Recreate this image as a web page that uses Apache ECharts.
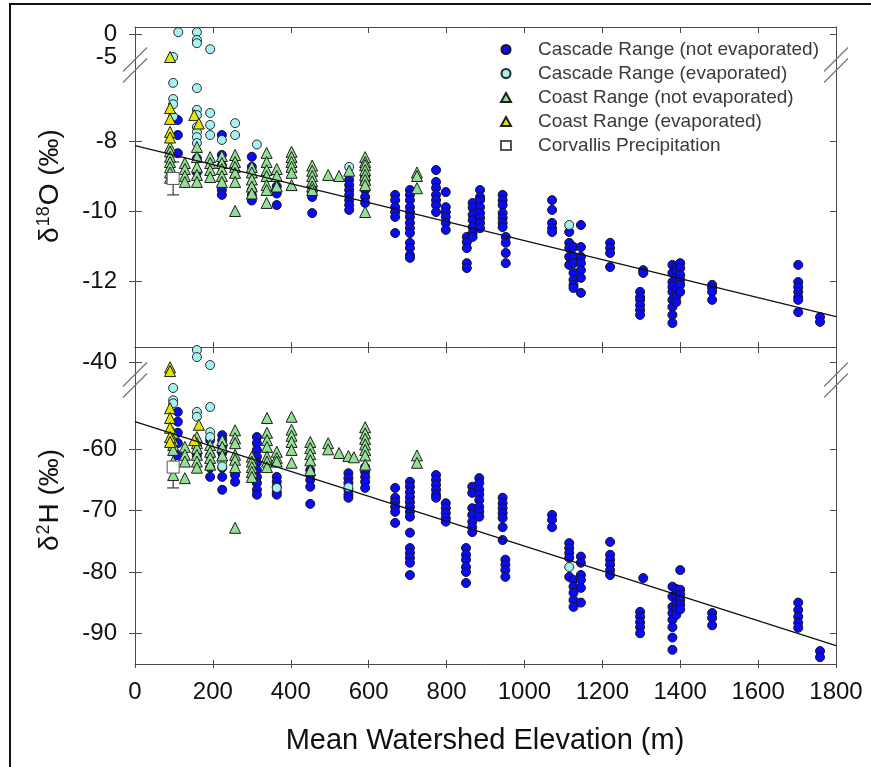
<!DOCTYPE html>
<html><head><meta charset="utf-8">
<script src="https://cdn.jsdelivr.net/npm/echarts@6/dist/echarts.min.js"></script>
<style>html,body{margin:0;padding:0;background:#fff}#c{width:871px;height:767px}</style>
</head><body><div id="c"></div>
<script>
// ---------------- DATA ----------------
// Column format: [mean watershed elevation (m), value1, value2, ...]
const xTickValues = [0, 200, 400, 600, 800, 1000, 1200, 1400, 1600, 1800];
const o18UpperLabelsA = [-5];
const o18UpperLabelsB = [0];
const o18UpperTicks = [0];
const o18LowerTicks = [-8, -10, -12];
const h2UpperTicks = [-40];
const h2LowerTicks = [-60, -70, -80, -90];

const seriesNames = ['Cascade Range (not evaporated)', 'Cascade Range (evaporated)',
  'Coast Range (not evaporated)', 'Coast Range (evaporated)', 'Corvallis Precipitation'];

// δ18O (‰)
const cascadeNotEvapO18 = [
  [110, -7.4, -7.83, -8.35], [159, -8.5, -8.9], [223, -7.83, -8.4, -8.7, -9.4, -9.54],
  [300, -8.45, -8.74, -9.4, -9.55, -9.7], [364, -9.3, -9.5, -9.83], [455, -9.35, -9.5, -9.6, -10.06],
  [550, -9.11, -9.26, -9.4, -9.54, -9.69, -9.83, -9.97], [591, -9.03, -9.2, -9.4, -9.6, -9.77],
  [668, -9.54, -9.69, -9.89, -10.03, -10.17, -10.63],
  [706, -9.4, -9.54, -9.69, -9.89, -10.03, -10.17, -10.34, -10.49, -10.63, -10.91, -11.06, -11.26, -11.34],
  [773, -8.83, -9.17, -9.34, -9.54, -9.69, -9.83, -10.03], [798, -9.46, -9.89, -10.03, -10.17, -10.34, -10.54],
  [852, -10.74, -10.89, -11.06, -11.49, -11.63], [867, -9.77, -9.91, -10.11, -10.26, -10.46, -10.63, -10.74],
  [886, -9.4, -9.6, -9.69, -9.89, -10.06, -10.2, -10.34, -10.49],
  [944, -9.54, -9.69, -9.83, -10.06, -10.2, -10.34, -10.46], [952, -10.74, -10.91, -11.2, -11.49],
  [1071, -9.69, -9.97, -10.34, -10.49, -10.6], [1115, -10.6, -10.91, -11.06, -11.31, -11.54],
  [1126, -11.03, -11.31, -11.49, -11.77, -11.97, -12.11, -12.2],
  [1145, -10.4, -11.03, -11.31, -11.49, -11.69, -11.91, -12.34], [1220, -10.91, -11.06, -11.2, -11.6],
  [1297, -12.31, -12.46, -12.54, -12.69, -12.83, -12.97], [1305, -11.69, -11.77],
  [1380, -11.54, -11.77, -12.03, -12.17, -12.31, -12.54, -12.74, -12.97, -13.2],
  [1390, -11.6, -11.7, -11.9, -12.25, -12.45, -12.6], [1400, -11.49, -11.63, -11.83, -11.97, -12.11, -12.31],
  [1482, -12.11, -12.2, -12.31, -12.54], [1703, -11.54, -12.03, -12.17, -12.31, -12.46, -12.54, -12.89],
  [1759, -13.03, -13.17]
];
const cascadeEvapO18 = [
  [98, -5.0, -6.34, -6.8, -6.95, -7.3], [111, 0.4],
  [159, 0.4, -1.3, -2.0, -6.49, -7.11, -7.26, -7.6, -7.74, -7.89, -8.06],
  [193, -3.3, -7.2, -7.54, -7.83], [223, -7.97], [257, -7.49, -7.83], [313, -8.1], [550, -8.74], [1115, -10.4]
];
const coastNotEvapO18 = [
  [90, -8.17, -8.3, -8.45, -8.6, -8.75, -8.9, -9.05], [128, -8.63, -8.8, -9.0, -9.17],
  [159, -8.17, -8.46, -8.74, -8.97, -9.17], [193, -8.46, -8.63, -8.83, -9.03],
  [223, -8.43, -8.63, -8.8, -9.0, -9.17], [257, -8.4, -8.6, -8.74, -8.91, -9.17, -10.0],
  [300, -8.74, -8.9, -9.1, -9.3, -9.5], [338, -8.34, -8.6, -8.83, -9.0, -9.26, -9.4, -9.77],
  [364, -8.8, -9.0, -9.3], [402, -8.31, -8.46, -8.6, -8.74, -8.91, -9.26],
  [455, -8.7, -8.85, -9.0, -9.15, -9.3, -9.4], [496, -8.97], [524, -9.0], [550, -8.85],
  [591, -8.46, -8.6, -8.69, -8.83, -8.97, -9.11, -9.26, -10.03], [724, -8.9, -9.0, -9.35]
];
const coastEvapO18 = [[90, -5.0, -7.06, -7.37, -7.74, -7.9], [152, -7.26], [164, -7.5]];
const corvallisElev = [98];
const corvallisO18 = [-9.07];
const corvallisO18Err = [0.47];
const fitO18 = [[0, -8.13], [1800, -13.02]];

// δ2H (‰)
const cascadeNotEvapH2 = [
  [110, -53.9, -55.5, -57.3, -59, -61], [159, -59.5, -61], [193, -58.5, -61, -63, -64.5],
  [224, -57.7, -58.5, -59.6, -60.6, -61.7, -63, -64.5, -66.6], [257, -64.2, -65.3],
  [313, -58, -59, -60.1, -61.2, -62.2, -63.4, -64.5, -65.5, -66.6, -67.4],
  [364, -64.5, -65.3, -66.1, -67, -67.4], [450, -63.4, -64.2, -65, -66.1, -68.9],
  [548, -63.9, -64.7, -65.5, -66.6, -67.4, -67.9], [591, -62.9, -63.7, -64.5, -65.3, -66.3],
  [668, -66.3, -67.9, -68.6, -69.4, -70.2, -72],
  [706, -65.3, -66.1, -67, -67.8, -68.6, -69.4, -70.2, -71, -73.6, -76.1, -76.9, -77.7, -78.5, -80.5],
  [773, -64.2, -65, -65.8, -66.6, -67.4, -67.9], [798, -68.8, -69.6, -70.4, -71.2, -71.8],
  [850, -76.1, -77.2, -78, -79.2, -80, -81.8], [866, -66.1, -67.1, -69.6, -70.7, -71.8, -72.7, -73.5],
  [884, -64.7, -65.5, -66.6, -67.4, -68.3, -69.4, -70.2, -71],
  [944, -67.9, -68.8, -69.6, -70.4, -71.2, -72.7, -74.8], [951, -78, -78.8, -79.7, -80.8],
  [1071, -70.7, -71.5, -72.7], [1115, -75.3, -76.1, -76.9, -77.7, -80.8],
  [1126, -81.3, -82.4, -83.4, -84.6, -85.7], [1145, -77.5, -78.5, -80.5, -81.3, -82.6, -85],
  [1220, -75.1, -77.2, -78, -78.8, -79.7, -80.5], [1297, -86.5, -87.3, -88.2, -89, -90], [1305, -81],
  [1380, -82.4, -84, -85.7, -86.7, -87.8, -89, -90.7, -92.7], [1390, -82.8, -84, -84.9, -86, -87],
  [1400, -79.7, -82.9, -83.7, -84.6, -85.3, -86.1], [1482, -86.7, -87.5, -88.7],
  [1703, -85, -86.2, -87.3, -88.3, -89.1], [1759, -92.9, -93.9]
];
const cascadeEvapH2 = [
  [98, -50, -52, -52.5], [159, -35.1, -37.9, -53.9, -54.7], [193, -41.1, -53.1, -57.2, -58],
  [224, -62, -62.8], [364, -66.3], [548, -66.2], [1115, -79.2]
];
const coastNotEvapH2 = [
  [98, -57.3, -58.5, -59.3, -60.1, -62, -64.2], [128, -59.6, -60.9, -62, -64.7],
  [159, -58, -59, -59.8, -60.9, -62, -63], [193, -59.3, -60.4, -61.4, -62.5], [224, -58.5, -59.6, -61],
  [257, -56.9, -58.2, -59, -60.9, -61.7, -62.9, -72.8], [300, -61.2, -62, -62.9, -63.7, -64.5],
  [339, -54.9, -57.3, -58.5, -59.6, -61.2, -62, -62.9], [364, -60.4, -61.4, -62],
  [402, -54.7, -56.8, -57.8, -58.8, -60.1, -62.2], [450, -58.8, -59.8, -60.8, -61.8, -63.4],
  [496, -59, -60], [524, -60.6], [548, -61.1], [562, -61.3],
  [591, -56.4, -57.4, -58.3, -59.2, -60.1, -61, -62.5], [724, -61, -62.2]
];
const coastEvapH2 = [[90, -42, -43.5, -53.3, -54.9, -56.5, -58, -58.8], [152, -58.5], [164, -56]];
const corvallisH2 = [-62.9];
const corvallisH2Err = [3.4];
const fitH2 = [[0, -55.5], [1800, -92.0]];

// ---------------- LAYOUT ----------------
const FONT = 'Liberation Sans, Arial, sans-serif';
const AX = '#4a4a4a';
const grids = [
  {left: 135, width: 701, top: 27, height: 38},
  {left: 135, width: 701, top: 65, height: 282},
  {left: 135, width: 701, top: 347, height: 33},
  {left: 135, width: 701, top: 380, height: 284}
];
const yRanges = [[-6.739, 1.522], [-13.886, -5.829], [-47.08, -33.88], [-95.01, -48.70]];
const yTickSets = [o18UpperTicks, o18LowerTicks, h2UpperTicks, h2LowerTicks];
const yLabelSets = [o18UpperLabelsA, o18LowerTicks, h2UpperTicks, h2LowerTicks];
const yLabelSets2 = [o18UpperLabelsB, [], [], []];

function cols(c) { const out = []; c.forEach(r => { for (let i = 1; i < r.length; i++) out.push([r[0], r[i]]); }); return out; }
const labelBase = {margin: 18, fontSize: 24, color: '#111', fontFamily: FONT, hideOverlap: false};

const yAxes = [];
grids.forEach((g, i) => {
  const common = {type: 'value', gridIndex: i, min: yRanges[i][0], max: yRanges[i][1], splitLine: {show: false}};
  yAxes.push(Object.assign({}, common, {position: 'left',
    axisLine: {show: true, onZero: false, lineStyle: {color: AX, width: 1}},
    axisTick: {show: true, inside: false, length: 6, customValues: yTickSets[i], lineStyle: {color: AX}},
    axisLabel: Object.assign({show: true, customValues: yLabelSets[i]}, labelBase)}));
  yAxes.push(Object.assign({}, common, {position: 'left',
    axisLine: {show: false, onZero: false},
    axisTick: {show: true, inside: true, length: 7, customValues: yTickSets[i], lineStyle: {color: AX}},
    axisLabel: yLabelSets2[i].length ? Object.assign({show: true, customValues: yLabelSets2[i]}, labelBase) : {show: false}}));
  yAxes.push(Object.assign({}, common, {position: 'right',
    axisLine: {show: true, onZero: false, lineStyle: {color: AX, width: 1}},
    axisTick: {show: true, inside: true, length: 6, customValues: yTickSets[i], lineStyle: {color: AX}},
    axisLabel: {show: false}}));
});

const xc = {type: 'value', min: 0, max: 1800, interval: 200, splitLine: {show: false}};
const xLine = {show: true, onZero: false, lineStyle: {color: AX, width: 1}};
const xAxes = [
  Object.assign({}, xc, {gridIndex: 0, position: 'top', axisLine: xLine, axisTick: {inside: true, length: 6, lineStyle: {color: AX}}, axisLabel: {show: false}}),
  Object.assign({}, xc, {gridIndex: 1, position: 'bottom', axisLine: xLine, axisTick: {inside: true, length: 5, lineStyle: {color: AX}}, axisLabel: {show: false}}),
  Object.assign({}, xc, {gridIndex: 2, position: 'top', axisLine: xLine, axisTick: {inside: true, length: 6, lineStyle: {color: AX}}, axisLabel: {show: false}}),
  Object.assign({}, xc, {gridIndex: 3, position: 'bottom', axisLine: xLine, axisTick: {inside: false, length: 4, lineStyle: {color: AX}},
    axisLabel: Object.assign({show: true, customValues: xTickValues, formatter: v => String(v)}, labelBase, {margin: 16})}),
  Object.assign({}, xc, {gridIndex: 3, position: 'bottom', axisLine: {show: false, onZero: false}, axisTick: {inside: true, length: 4, lineStyle: {color: AX}}, axisLabel: {show: false}})
];

const styles = [
  {symbol: 'circle', size: 9, color: '#0a0aff', border: '#151515'},
  {symbol: 'circle', size: 9, color: '#a6f1f1', border: '#2a2a2a'},
  {symbol: 'triangle', size: 11, color: '#93df93', border: '#1e1e1e'},
  {symbol: 'triangle', size: 11, color: '#e4e400', border: '#1e1e1e'}
];
const topData = [cascadeNotEvapO18, cascadeEvapO18, coastNotEvapO18, coastEvapO18];
const botData = [cascadeNotEvapH2, cascadeEvapH2, coastNotEvapH2, coastEvapH2];

const series = [];
function addScatter(name, st, pts, gi, z) {
  series.push({type: 'scatter', name: name, xAxisIndex: gi, yAxisIndex: gi * 3, data: pts,
    symbol: st.symbol, symbolSize: st.size, clip: false, z: z,
    itemStyle: {color: st.color, borderColor: st.border, borderWidth: 1, opacity: 1},
    emphasis: {disabled: true}});
}
styles.forEach((st, k) => {
  const tp = cols(topData[k]);
  addScatter(seriesNames[k], st, tp.filter(p => p[1] > -6), 0, 2 + k * 0.1);
  addScatter(seriesNames[k], st, tp.filter(p => p[1] <= -6), 1, 2 + k * 0.1);
  const bp = cols(botData[k]);
  addScatter(seriesNames[k], st, bp.filter(p => p[1] > -48), 2, 2 + k * 0.1);
  addScatter(seriesNames[k], st, bp.filter(p => p[1] <= -48), 3, 2 + k * 0.1);
});

function errBar(gi, vals, errs) {
  return {type: 'custom', xAxisIndex: gi, yAxisIndex: gi * 3, z: 1.5, silent: true,
    data: corvallisElev.map((e, i) => [e, vals[i], errs[i]]),
    renderItem: function (params, api) {
      const x = api.value(0), v = api.value(1), er = api.value(2);
      const a = api.coord([x, v + er]), b = api.coord([x, v - er]);
      const s = {stroke: '#3a3a3a', lineWidth: 1.2};
      return {type: 'group', children: [
        {type: 'line', shape: {x1: a[0], y1: a[1], x2: b[0], y2: b[1]}, style: s},
        {type: 'line', shape: {x1: a[0] - 6, y1: a[1], x2: a[0] + 6, y2: a[1]}, style: s},
        {type: 'line', shape: {x1: b[0] - 6, y1: b[1], x2: b[0] + 6, y2: b[1]}, style: s}
      ]};
    }};
}
series.push(errBar(1, corvallisO18, corvallisO18Err));
series.push(errBar(3, corvallisH2, corvallisH2Err));
const sqStyle = {symbol: 'rect', size: 12, color: '#ffffff', border: '#555555'};
addScatter(seriesNames[4], sqStyle, corvallisElev.map((e, i) => [e, corvallisO18[i]]), 1, 3);
addScatter(seriesNames[4], sqStyle, corvallisElev.map((e, i) => [e, corvallisH2[i]]), 3, 3);

function fitLine(gi, d) {
  return {type: 'line', xAxisIndex: gi, yAxisIndex: gi * 3, data: d, symbol: 'none', z: 4, silent: true,
    lineStyle: {color: '#111', width: 1.3}, emphasis: {disabled: true}};
}
series.push(fitLine(1, fitO18));
series.push(fitLine(3, fitH2));

// break marks and frame (decorations)
const brk = [];
[[135, 65], [836, 65], [135, 380], [836, 380]].forEach(p => {
  const cx = p[0], cy = p[1];
  [-5.5, 5.5].forEach(off => {
    brk.push({type: 'line', z: 100, silent: true,
      shape: {x1: cx - 12, y1: cy + off + 12, x2: cx + 12, y2: cy + off - 12},
      style: {stroke: '#777', lineWidth: 1.2}});
  });
});

const legendIcons = {'Cascade Range (not evaporated)': 'circle', 'Cascade Range (evaporated)': 'circle',
  'Coast Range (not evaporated)': 'triangle', 'Coast Range (evaporated)': 'triangle', 'Corvallis Precipitation': 'rect'};

const option = {
  animation: false,
  backgroundColor: '#ffffff',
  grid: grids,
  xAxis: xAxes,
  yAxis: yAxes,
  legend: {orient: 'vertical', left: 500, top: 40, padding: 0, itemGap: 5, itemWidth: 10, itemHeight: 9,
    selectedMode: false,
    data: seriesNames.map(n => ({name: n, icon: legendIcons[n]})),
    textStyle: {fontSize: 19, color: '#3a3a3a', fontFamily: FONT, padding: [0, 0, 0, 22]}},
  series: series,
  graphic: brk.concat([
    {type: 'rect', silent: true, z: 100, shape: {x: 10, y: 4, width: 1000, height: 1000},
      style: {fill: 'none', stroke: '#111', lineWidth: 2}},
    {type: 'text', silent: true, x: 50, y: 186, rotation: Math.PI / 2,
      style: {text: 'δ{s|18}O (‰)', font: '28px ' + FONT, fill: '#111', align: 'center', verticalAlign: 'middle',
        rich: {s: {fontSize: 18, fontFamily: FONT, fill: '#111', padding: [0, 1, 12, 1]}}}},
    {type: 'text', silent: true, x: 50, y: 500, rotation: Math.PI / 2,
      style: {text: 'δ{s|2}H (‰)', font: '28px ' + FONT, fill: '#111', align: 'center', verticalAlign: 'middle',
        rich: {s: {fontSize: 18, fontFamily: FONT, fill: '#111', padding: [0, 1, 12, 1]}}}},
    {type: 'text', silent: true, x: 485, y: 741,
      style: {text: 'Mean Watershed Elevation (m)', font: '29px ' + FONT, fill: '#111', align: 'center', verticalAlign: 'middle'}}
  ])
};
const chart = echarts.init(document.getElementById('c'));
chart.setOption(option);
</script></body></html>
